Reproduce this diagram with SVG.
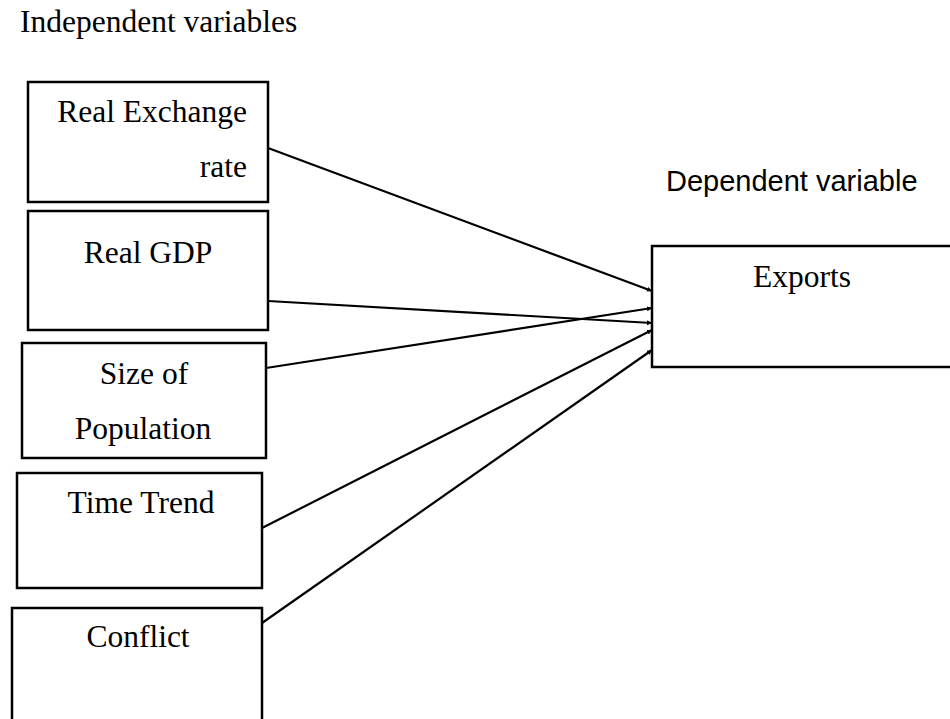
<svg xmlns="http://www.w3.org/2000/svg" width="950" height="719" viewBox="0 0 950 719">
<defs>
<style>
.box{fill:#fff;stroke:#000;stroke-width:2.5}
.t{font-family:"Liberation Serif","Times New Roman",serif;font-size:31.5px;fill:#000}
.s{font-family:"Liberation Sans",Arial,sans-serif;font-size:29px;fill:#000}
.c{stroke:#000;stroke-width:2.2;fill:none}
</style>
<marker id="ah" markerWidth="6" markerHeight="6" refX="5" refY="3" orient="auto" markerUnits="userSpaceOnUse">
<path d="M0,0.5 L5,3 L0,5.5 z" fill="#000"/>
</marker>
</defs>
<rect width="950" height="719" fill="#fff"/>
<text class="t" x="20" y="32">Independent variables</text>
<text class="s" x="666" y="191">Dependent variable</text>
<g id="connectors">
<line class="c" x1="268" y1="148" x2="652" y2="291" marker-end="url(#ah)"/>
<line class="c" x1="268" y1="301" x2="652" y2="323" marker-end="url(#ah)"/>
<line class="c" x1="266" y1="368" x2="652" y2="308" marker-end="url(#ah)"/>
<line class="c" x1="262" y1="528" x2="652" y2="330" marker-end="url(#ah)"/>
<line class="c" x1="262" y1="623" x2="652" y2="350" marker-end="url(#ah)"/>
</g>
<g id="node-rer">
<rect class="box" x="28" y="82" width="240" height="120"/>
<text class="t" x="247" y="122" text-anchor="end">Real Exchange</text>
<text class="t" x="247" y="177" text-anchor="end">rate</text>
</g>
<g id="node-gdp">
<rect class="box" x="28" y="211" width="240" height="119"/>
<text class="t" x="148" y="263" text-anchor="middle">Real GDP</text>
</g>
<g id="node-pop">
<rect class="box" x="22" y="343" width="244" height="115"/>
<text class="t" x="144" y="384" text-anchor="middle">Size of</text>
<text class="t" x="143" y="439" text-anchor="middle">Population</text>
</g>
<g id="node-time">
<rect class="box" x="17" y="473" width="245" height="115"/>
<text class="t" x="141" y="513" text-anchor="middle">Time Trend</text>
</g>
<g id="node-conflict">
<rect class="box" x="12" y="608" width="250" height="130"/>
<text class="t" x="138" y="647" text-anchor="middle">Conflict</text>
</g>
<g id="node-exports">
<rect class="box" x="652" y="246" width="310" height="121"/>
<text class="t" x="802" y="287" text-anchor="middle">Exports</text>
</g>
</svg>
